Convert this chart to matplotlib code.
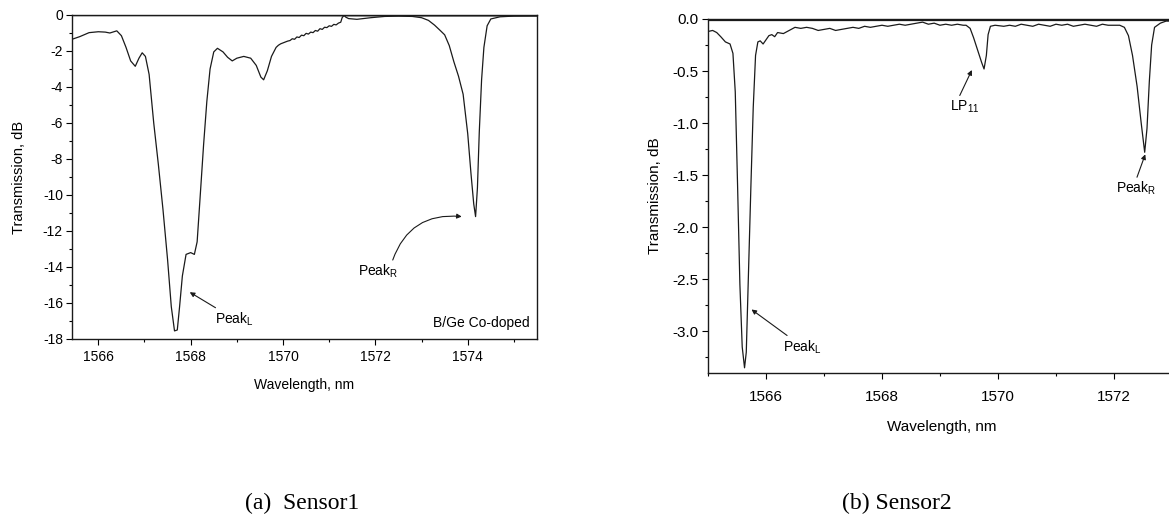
import matplotlib
matplotlib.use("Agg")
import matplotlib.pyplot as plt
from matplotlib.ticker import MultipleLocator, FormatStrFormatter

plt.rcParams['font.family'] = ['Liberation Sans', 'DejaVu Sans']
plt.rcParams['axes.unicode_minus'] = False

# ---- Sensor 1 (B/Ge co-doped) transmission spectrum ----
wl_s1 = [1565.43, 1565.6, 1565.8, 1566.0, 1566.15, 1566.25, 1566.4, 1566.5, 1566.6, 1566.7,
         1566.8, 1566.88, 1566.95, 1567.02, 1567.1, 1567.2, 1567.3, 1567.4, 1567.5, 1567.58,
         1567.65, 1567.71, 1567.76, 1567.82, 1567.9, 1568.0, 1568.08, 1568.14, 1568.2, 1568.28,
         1568.35, 1568.42, 1568.5, 1568.58, 1568.7, 1568.8, 1568.9, 1569.0, 1569.15, 1569.3,
         1569.42, 1569.52, 1569.58, 1569.66, 1569.75, 1569.85, 1569.9, 1569.95, 1570.0, 1570.05,
         1570.1, 1570.15, 1570.2, 1570.25, 1570.3, 1570.35, 1570.4, 1570.45, 1570.5, 1570.55,
         1570.6, 1570.65, 1570.7, 1570.75, 1570.8, 1570.85, 1570.9, 1570.95, 1571.0, 1571.05,
         1571.1, 1571.15, 1571.2, 1571.25, 1571.28, 1571.32, 1571.36, 1571.42, 1571.6, 1571.9,
         1572.2, 1572.5, 1572.8, 1573.0, 1573.15, 1573.28, 1573.4, 1573.5, 1573.6, 1573.7,
         1573.8, 1573.9, 1574.0, 1574.07, 1574.13, 1574.17, 1574.21, 1574.25, 1574.3, 1574.35,
         1574.42, 1574.5, 1574.7, 1575.0, 1575.5]
tr_s1 = [-1.35, -1.2, -0.98, -0.93, -0.95, -1.0, -0.88, -1.15, -1.8, -2.55,
         -2.85, -2.4, -2.1, -2.3, -3.3, -6.0, -8.3, -10.8, -13.6, -16.2,
         -17.55, -17.5, -16.2, -14.5, -13.3, -13.2, -13.3, -12.6, -10.3, -7.2,
         -4.8, -3.0, -2.05, -1.85, -2.05, -2.35, -2.55, -2.4, -2.3, -2.4,
         -2.8, -3.45, -3.6, -3.1, -2.3, -1.8, -1.68, -1.6, -1.55, -1.5,
         -1.45, -1.42, -1.32, -1.35, -1.22, -1.25, -1.12, -1.15, -1.02, -1.06,
         -0.95, -0.98, -0.86, -0.9, -0.76, -0.8, -0.68, -0.7, -0.6, -0.63,
         -0.52, -0.55, -0.45, -0.4, -0.15, -0.02, -0.12, -0.2, -0.24, -0.15,
         -0.08, -0.06, -0.08, -0.15, -0.3, -0.56, -0.85, -1.1, -1.7, -2.6,
         -3.4, -4.4, -6.6, -8.8, -10.5, -11.2, -9.6, -6.5, -3.6, -1.8,
         -0.6, -0.22, -0.1, -0.06, -0.05]
wl_s1_ref = [1565.43, 1568.0, 1571.0, 1573.0, 1575.5]
tr_s1_ref = [-0.03, -0.03, -0.04, -0.05, -0.05]

# ---- Sensor 2 transmission spectrum ----
wl_s2 = [1565.0, 1565.08, 1565.15, 1565.22, 1565.3, 1565.38, 1565.43, 1565.47, 1565.51, 1565.55,
         1565.59, 1565.63, 1565.66, 1565.7, 1565.74, 1565.78, 1565.82, 1565.86, 1565.9, 1565.95,
         1566.0, 1566.05, 1566.1, 1566.15, 1566.2, 1566.3, 1566.4, 1566.5, 1566.6, 1566.7,
         1566.8, 1566.9, 1567.0, 1567.1, 1567.2, 1567.3, 1567.4, 1567.5, 1567.6, 1567.7,
         1567.8, 1567.9, 1568.0, 1568.1, 1568.2, 1568.3, 1568.4, 1568.5, 1568.6, 1568.7,
         1568.8, 1568.9, 1569.0, 1569.1, 1569.2, 1569.3, 1569.4, 1569.45, 1569.52, 1569.58,
         1569.65, 1569.72, 1569.76, 1569.8, 1569.83, 1569.87, 1569.95, 1570.1, 1570.2, 1570.3,
         1570.4, 1570.5, 1570.6, 1570.7, 1570.8, 1570.9, 1571.0, 1571.1, 1571.2, 1571.3,
         1571.4, 1571.5, 1571.6, 1571.7, 1571.8, 1571.9, 1572.0, 1572.1, 1572.18, 1572.25,
         1572.32, 1572.4, 1572.47, 1572.53, 1572.57, 1572.61, 1572.65, 1572.7, 1572.8, 1572.9,
         1573.0, 1573.1]
tr_s2 = [-0.12, -0.11, -0.13, -0.17, -0.22, -0.24, -0.33, -0.7, -1.6, -2.55,
         -3.15, -3.35, -3.2, -2.4, -1.6, -0.85, -0.35, -0.22, -0.21, -0.24,
         -0.2, -0.16, -0.15, -0.17, -0.13, -0.14, -0.11, -0.08, -0.09, -0.08,
         -0.09, -0.11, -0.1, -0.09, -0.11, -0.1, -0.09, -0.08, -0.09, -0.07,
         -0.08, -0.07, -0.06, -0.07, -0.06, -0.05, -0.06, -0.05, -0.04, -0.03,
         -0.05, -0.04, -0.06, -0.05, -0.06, -0.05, -0.06, -0.06, -0.09, -0.18,
         -0.3, -0.42, -0.48, -0.35, -0.15, -0.07, -0.06, -0.07, -0.06, -0.07,
         -0.05, -0.06, -0.07, -0.05, -0.06, -0.07, -0.05, -0.06, -0.05, -0.07,
         -0.06, -0.05, -0.06, -0.07, -0.05, -0.06, -0.06, -0.06, -0.08, -0.16,
         -0.35, -0.65, -1.0, -1.28, -1.05, -0.6, -0.25, -0.08, -0.04, -0.02,
         -0.02, -0.03]
wl_s2_ref = [1565.0, 1568.0, 1571.0, 1573.1]
tr_s2_ref = [-0.005, -0.005, -0.005, -0.005]

LINE = '#1a1a1a'
W, H = 1169, 529
fig = plt.figure(figsize=(W / 100, H / 100), dpi=100)

ax1 = fig.add_axes([72 / W, 1 - 339 / H, (537 - 72) / W, (339 - 15) / H])
ax2 = fig.add_axes([708 / W, 1 - 373 / H, 468 / W, (373 - 19) / H])

for ax in (ax1, ax2):
    ax.tick_params(which='major', direction='out', length=4, width=0.8, labelsize=10, pad=2.5,
                   top=False, right=False)
    ax.tick_params(which='minor', direction='out', length=2.5, width=0.8, top=False, right=False)
    for s in ax.spines.values():
        s.set_linewidth(1.0)
        s.set_color(LINE)

# Panel (a)
ax1.plot(wl_s1_ref, tr_s1_ref, color=LINE, lw=0.9)
ax1.plot(wl_s1, tr_s1, color=LINE, lw=0.9)
ax1.set_xlim(1565.43, 1575.5)
ax1.set_ylim(-18, 0)
ax1.xaxis.set_major_locator(MultipleLocator(2))
ax1.xaxis.set_minor_locator(MultipleLocator(1))
ax1.yaxis.set_major_locator(MultipleLocator(2))
ax1.yaxis.set_minor_locator(MultipleLocator(1))
ax1.tick_params(axis='x', which='major', pad=4)
ax1.set_xlabel('Wavelength, nm', fontsize=10, labelpad=10)
ax1.set_ylabel('Transmission, dB', fontsize=10.5, labelpad=12)

arrow = dict(arrowstyle='-|>', color=LINE, lw=0.8, mutation_scale=7, shrinkA=0, shrinkB=0)
ax1.annotate(r'Peak$_\mathregular{L}$', xy=(1567.98, -15.4), xytext=(1568.53, -16.9),
             ha='left', va='center', fontsize=10, arrowprops=arrow)
ax1.annotate(r'Peak$_\mathregular{R}$', xy=(1573.87, -11.2), xytext=(1572.05, -14.25),
             ha='center', va='center', fontsize=10,
             arrowprops=dict(arrow, connectionstyle='arc3,rad=-0.4', relpos=(0.85, 1.0)))
ax1.text(1575.35, -17.1, 'B/Ge Co-doped', ha='right', va='center', fontsize=10)

# Panel (b)
ax2.plot(wl_s2_ref, tr_s2_ref, color=LINE, lw=0.9)
ax2.plot(wl_s2, tr_s2, color=LINE, lw=0.9)
ax2.set_xlim(1565.0, 1573.07)
ax2.set_ylim(-3.4, 0.0)
ax2.xaxis.set_major_locator(MultipleLocator(2))
ax2.xaxis.set_minor_locator(MultipleLocator(1))
ax2.yaxis.set_major_locator(MultipleLocator(0.5))
ax2.yaxis.set_minor_locator(MultipleLocator(0.25))
ax2.yaxis.set_major_formatter(FormatStrFormatter('%.1f'))
ax2.tick_params(which='major', labelsize=11)
ax2.tick_params(axis='x', which='major', pad=8)
ax2.set_xlabel('Wavelength, nm', fontsize=11, labelpad=12)
ax2.set_ylabel('Transmission, dB', fontsize=11, labelpad=8)

ax2.annotate(r'LP$_\mathregular{11}$', xy=(1569.55, -0.49), xytext=(1569.42, -0.84),
             ha='center', va='center', fontsize=10, arrowprops=dict(arrow, relpos=(0.3, 1.0)))
ax2.annotate(r'Peak$_\mathregular{L}$', xy=(1565.75, -2.79), xytext=(1566.63, -3.15),
             ha='center', va='center', fontsize=10, arrowprops=dict(arrow, relpos=(0.2, 1.0)))
ax2.annotate(r'Peak$_\mathregular{R}$', xy=(1572.54, -1.3), xytext=(1572.38, -1.63),
             ha='center', va='center', fontsize=10, arrowprops=dict(arrow, relpos=(0.5, 1.0)))

# Captions
serif = ['Liberation Serif', 'DejaVu Serif']
fig.text(302 / W, 1 - 503 / H, '(a)  Sensor1', ha='center', va='center', fontsize=17, family=serif)
fig.text(897 / W, 1 - 503 / H, '(b) Sensor2', ha='center', va='center', fontsize=17, family=serif)

fig.savefig('out.png', dpi=100)
